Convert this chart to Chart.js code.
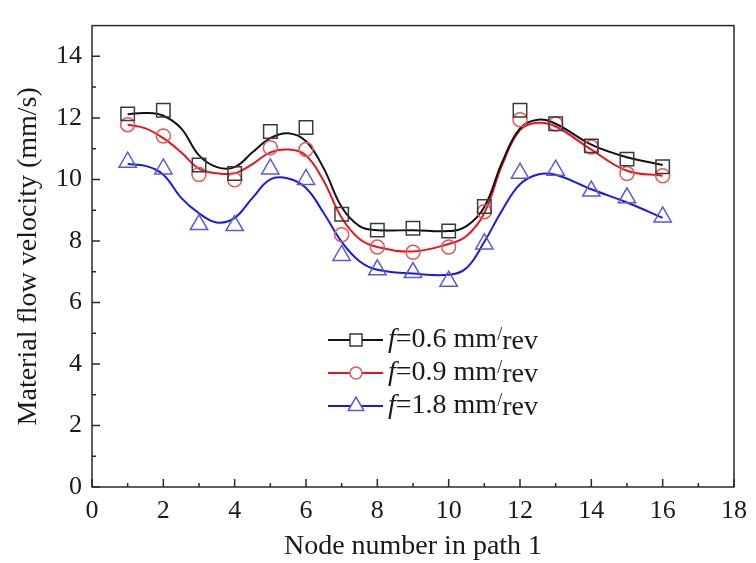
<!DOCTYPE html>
<html>
<head>
<meta charset="utf-8">
<script src="https://cdn.jsdelivr.net/npm/chart.js@4.4.1/dist/chart.umd.min.js"></script>
<style>
  html, body { margin: 0; padding: 0; background: #fff; }
  #wrap { width: 756px; height: 563px; }
</style>
</head>
<body>
<div id="wrap"><canvas id="flow-chart"></canvas></div>
<script>
// measured values at each node
var nodes = [1, 2, 3, 4, 5, 6, 7, 8, 9, 10, 11, 12, 13, 14, 15, 16];
var v06 = [12.13, 12.25, 10.47, 10.19, 11.56, 11.69, 8.87, 8.35, 8.41, 8.32, 9.12, 12.25, 11.81, 11.09, 10.66, 10.41];
var v09 = [11.78, 11.41, 10.16, 9.99, 11.03, 10.97, 8.2, 7.8, 7.63, 7.8, 8.95, 11.94, 11.8, 11.05, 10.19, 10.12];
var v18 = [10.56, 10.34, 8.53, 8.5, 10.34, 10.0, 7.53, 7.06, 6.97, 6.69, 7.9, 10.2, 10.3, 9.62, 9.4, 8.78];

// smoothed fit curves
var fitX = [1, 1.5, 2, 2.5, 3, 3.5, 4, 4.5, 5, 5.5, 6, 6.5, 7, 7.5, 8, 9, 10, 10.5, 11, 11.5, 12, 12.5, 13, 14, 15, 16];
var fit06 = [12.12, 12.16, 12.07, 11.66, 10.78, 10.4, 10.4, 10.88, 11.34, 11.5, 11.24, 10.35, 9.1, 8.48, 8.35, 8.35, 8.32, 8.48, 9.1, 10.56, 11.66, 11.94, 11.81, 11.13, 10.72, 10.47];
var fit09 = [11.78, 11.66, 11.34, 10.88, 10.35, 10.2, 10.2, 10.5, 10.88, 10.97, 10.78, 9.94, 8.75, 8.06, 7.8, 7.66, 7.9, 8.16, 8.9, 10.47, 11.6, 11.84, 11.72, 10.97, 10.28, 10.12];
var fit18 = [10.5, 10.44, 10.15, 9.4, 8.9, 8.6, 8.75, 9.4, 10.0, 10.03, 9.72, 8.9, 7.97, 7.34, 7.06, 6.94, 6.9, 7.12, 7.97, 9.0, 9.84, 10.16, 10.15, 9.68, 9.25, 8.75];

var feeds = ['0.6', '0.9', '1.8'];
var lineColors = ['#111111', '#e8141e', '#1a1ae6'];
var markColors = ['#3a3a3a', '#e05a5a', '#5a5ad8'];
var markStyles = ['rect', 'circle', 'triangle'];
var markRadius = [9.5, 7, 10];

var serif = "'Liberation Serif', 'Times New Roman', serif";

function pts(xs, ys) {
    return xs.map(function (x, i) { return { x: x, y: ys[i] }; });
}

var fits = [fit06, fit09, fit18];
var vals = [v06, v09, v18];
var datasets = [];
for (var i = 0; i < 3; i++) {
    datasets.push({
        label: 'fit ' + feeds[i],
        data: pts(fitX, fits[i]),
        showLine: true,
        borderColor: lineColors[i],
        borderWidth: 2,
        pointRadius: 0,
        tension: 0.4,
        order: 1
    });
    datasets.push({
        label: 'f=' + feeds[i] + ' mm/rev',
        data: pts(nodes, vals[i]),
        showLine: false,
        pointStyle: markStyles[i],
        pointRadius: markRadius[i],
        pointBorderWidth: 1.5,
        pointBorderColor: markColors[i],
        pointBackgroundColor: 'rgba(255,255,255,0)',
        order: 0
    });
}

function drawMark(ctx, style, x, y, r) {
    ctx.beginPath();
    if (style === 'rect') {
        var s = r * Math.SQRT1_2;
        ctx.rect(x - s, y - s, 2 * s, 2 * s);
    } else if (style === 'circle') {
        ctx.arc(x, y, r, 0, Math.PI * 2);
    } else {
        ctx.moveTo(x, y - r);
        ctx.lineTo(x + r * Math.sqrt(3) / 2, y + r / 2);
        ctx.lineTo(x - r * Math.sqrt(3) / 2, y + r / 2);
        ctx.closePath();
    }
    ctx.fill();
    ctx.stroke();
}

// frame with inward ticks
var framePlugin = {
    id: 'frame',
    afterDraw: function (chart) {
        var ctx = chart.ctx, a = chart.chartArea;
        var xs = chart.scales.x, ys = chart.scales.y;
        ctx.save();
        ctx.strokeStyle = '#2a2a2a';
        ctx.lineWidth = 1.5;
        ctx.strokeRect(a.left, a.top, a.right - a.left, a.bottom - a.top);
        ctx.beginPath();
        for (var v = 0; v <= 18; v++) {
            var px = xs.getPixelForValue(v);
            var len = v % 2 === 0 ? 8 : 4;
            ctx.moveTo(px, a.bottom);
            ctx.lineTo(px, a.bottom - len);
        }
        for (var w = 0; w <= 14; w++) {
            var py = ys.getPixelForValue(w);
            var l2 = w % 2 === 0 ? 8 : 4;
            ctx.moveTo(a.left, py);
            ctx.lineTo(a.left + l2, py);
        }
        ctx.stroke();
        ctx.restore();
    }
};

// legend with italic f
var legendPlugin = {
    id: 'feedLegend',
    afterDraw: function (chart) {
        var ctx = chart.ctx;
        var x0 = 328, rowY = [340, 373, 406];
        ctx.save();
        for (var i = 0; i < 3; i++) {
            var y = rowY[i];
            ctx.strokeStyle = lineColors[i];
            ctx.lineWidth = 2;
            ctx.beginPath();
            ctx.moveTo(x0, y);
            ctx.lineTo(x0 + 55, y);
            ctx.stroke();
            ctx.fillStyle = '#fff';
            ctx.strokeStyle = markColors[i];
            ctx.lineWidth = 1.5;
            drawMark(ctx, markStyles[i], x0 + 28, y, markRadius[i] - 1);

            ctx.fillStyle = '#1a1a1a';
            ctx.textBaseline = 'middle';
            ctx.textAlign = 'left';
            var tx = x0 + 60;
            ctx.font = 'italic 28px ' + serif;
            ctx.fillText('f', tx, y);
            tx += ctx.measureText('f').width;
            ctx.font = '28px ' + serif;
            var main = '=' + feeds[i] + ' mm';
            ctx.fillText(main, tx, y);
            tx += ctx.measureText(main).width;
            ctx.font = '18px ' + serif;
            ctx.fillText('/', tx, y - 5);
            tx += ctx.measureText('/').width;
            ctx.font = '28px ' + serif;
            ctx.fillText('rev', tx, y + 2);
        }
        ctx.restore();
    }
};

var ctx = document.getElementById('flow-chart').getContext('2d');
var chart = new Chart(ctx, {
    type: 'scatter',
    data: { datasets: datasets },
    plugins: [framePlugin, legendPlugin],
    options: {
        responsive: true,
        maintainAspectRatio: false,
        animation: false,
        layout: { padding: { left: 0, right: 17, top: 7, bottom: 0 } },
        plugins: {
            legend: { display: false },
            tooltip: { enabled: false }
        },
        scales: {
            x: {
                type: 'linear',
                min: 0,
                max: 18,
                grid: { display: false, drawTicks: false },
                border: { display: false },
                ticks: {
                    stepSize: 2,
                    padding: 9,
                    color: '#1a1a1a',
                    font: { family: serif, size: 26 }
                },
                title: {
                    display: true,
                    text: 'Node number in path 1',
                    color: '#1a1a1a',
                    padding: { top: 1, bottom: 0 },
                    font: { family: serif, size: 28 }
                },
                afterFit: function (s) { s.height = 76; }
            },
            y: {
                min: 0,
                max: 15,
                grid: { display: false, drawTicks: false },
                border: { display: false },
                afterBuildTicks: function (s) {
                    s.ticks = s.ticks.filter(function (t) { return t.value % 2 === 0; });
                },
                ticks: {
                    stepSize: 2,
                    padding: 10,
                    color: '#1a1a1a',
                    font: { family: serif, size: 26 }
                },
                title: {
                    display: true,
                    text: 'Material flow velocity (mm/s)',
                    color: '#1a1a1a',
                    padding: { top: 12, bottom: 0 },
                    font: { family: serif, size: 28 }
                },
                afterFit: function (s) { s.width = 92; }
            }
        }
    }
});
</script>
</body>
</html>
